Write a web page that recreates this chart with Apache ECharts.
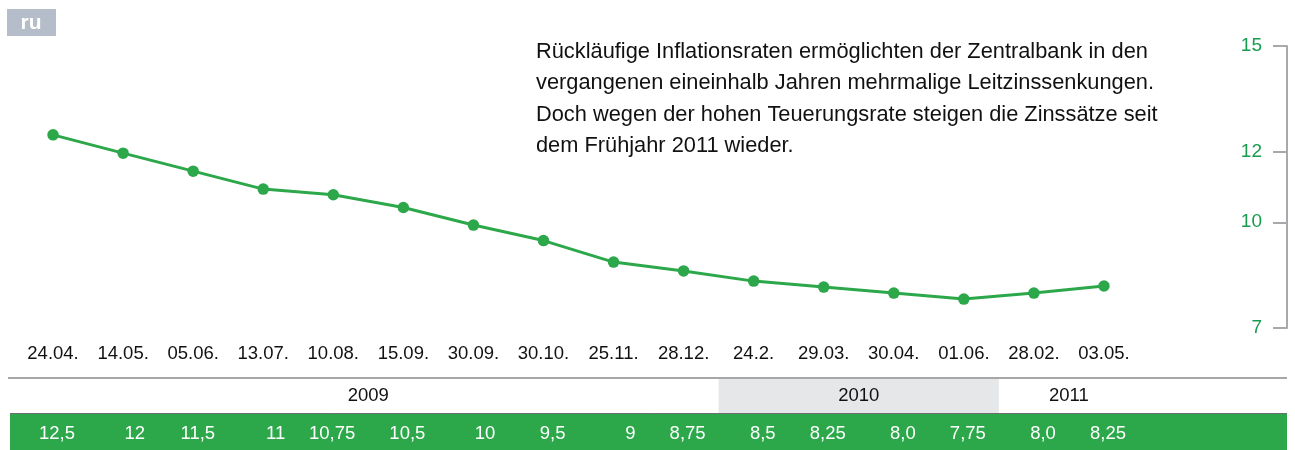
<!DOCTYPE html>
<html>
<head>
<meta charset="utf-8">
<script src="https://cdn.jsdelivr.net/npm/echarts@6/dist/echarts.min.js"></script>
<style>
  html, body { margin: 0; padding: 0; background: #fff; }
  #chart { width: 1295px; height: 450px; }
</style>
</head>
<body>
<div id="chart"></div>
<script>
// Leitzins Russland
const dates = ["24.04.", "14.05.", "05.06.", "13.07.", "10.08.", "15.09.", "30.09.", "30.10.",
  "25.11.", "28.12.", "24.2.", "29.03.", "30.04.", "01.06.", "28.02.", "03.05."];
// as plotted in the picture
const rates = [12.48, 11.96, 11.45, 10.94, 10.78, 10.42, 9.92, 9.48, 8.87, 8.62, 8.33, 8.16, 7.99, 7.82, 7.99, 8.19];
// values printed in the green row
const rateLabels = ["12,5", "12", "11,5", "11", "10,75", "10,5", "10", "9,5", "9", "8,75",
  "8,5", "8,25", "8,0", "7,75", "8,0", "8,25"];
const yTicks = [7, 10, 12, 15];
const years = ["2009", "2010", "2011"];
const yearFirst = [0, 10, 14]; // index of first date in year
const yearLast = [9, 13, 15];
const note = [
  "Rückläufige Inflationsraten ermöglichten der Zentralbank in den",
  "vergangenen eineinhalb Jahren mehrmalige Leitzinssenkungen.",
  "Doch wegen der hohen Teuerungsrate steigen die Zinssätze seit",
  "dem Frühjahr 2011 wieder."
];

const green = "#2ca84a";
const font = "'Liberation Sans', Arial, sans-serif";

const chart = echarts.init(document.getElementById("chart"));

const option = {
  animation: false,
  textStyle: { fontFamily: font },
  grid: [
    { left: 18, right: 156, top: 46, bottom: 122 },
    { left: 18, right: 156, top: 379, height: 34 },
    { left: 40, right: 134, top: 413, height: 37 }
  ],
  xAxis: [
    {
      type: "category",
      gridIndex: 0,
      data: dates,
      boundaryGap: true,
      axisLine: { show: false },
      axisTick: { show: false },
      axisLabel: { interval: 0, color: "#111", fontSize: 18.5, margin: 16, fontFamily: font }
    },
    {
      type: "value",
      gridIndex: 1,
      min: -0.5,
      max: dates.length - 0.5,
      show: false
    },
    {
      type: "category",
      gridIndex: 2,
      data: rateLabels,
      position: "bottom",
      axisLine: { show: false },
      axisTick: { show: false },
      axisLabel: {
        interval: 0,
        inside: true,
        align: "right",
        verticalAlign: "middle",
        margin: 16,
        color: "#fff",
        fontSize: 18.5,
        fontFamily: font
      }
    }
  ],
  yAxis: [
    {
      type: "value",
      gridIndex: 0,
      position: "right",
      offset: 148,
      min: 7,
      max: 15,
      splitLine: { show: false },
      axisLine: { show: true, lineStyle: { color: "#a7a9ac", width: 2 } },
      axisTick: {
        show: true,
        inside: true,
        length: 14,
        customValues: yTicks,
        lineStyle: { color: "#a7a9ac", width: 2 }
      },
      axisLabel: {
        inside: true,
        margin: 25,
        customValues: yTicks,
        color: "#179c4f",
        fontSize: 19,
        fontFamily: font
      }
    },
    { type: "value", gridIndex: 1, min: 0, max: 1, show: false },
    { type: "value", gridIndex: 2, min: 0, max: 1, show: false }
  ],
  graphic: [
    { type: "rect", shape: { x: 7, y: 9, width: 49, height: 27 }, style: { fill: "#b5bdca" } },
    {
      type: "text", x: 31, y: 23,
      style: { text: "ru", fill: "#fff", font: "bold 21px " + font, align: "center", verticalAlign: "middle" }
    },
    {
      type: "text", x: 536, y: 36,
      style: {
        text: note.join("\n"),
        fill: "#111",
        font: "21.8px " + font,
        lineHeight: 31.5
      }
    },
    { type: "line", shape: { x1: 8, y1: 378, x2: 1287, y2: 378 }, style: { stroke: "#8a8a8a", lineWidth: 1.5 } },
    { type: "rect", z: -1, shape: { x: 10, y: 413, width: 1277, height: 37 }, style: { fill: green } },
    { type: "line", z: -1, shape: { x1: 10, y1: 413.5, x2: 1287, y2: 413.5 }, style: { stroke: "#6d6e71", lineWidth: 1 } }
  ],
  series: [
    {
      type: "line",
      xAxisIndex: 0,
      yAxisIndex: 0,
      data: rates,
      symbol: "circle",
      symbolSize: 11.5,
      lineStyle: { color: green, width: 3 },
      itemStyle: { color: green }
    },
    {
      type: "line",
      xAxisIndex: 1,
      yAxisIndex: 1,
      data: [],
      markArea: {
        silent: true,
        label: { show: true, position: "inside", color: "#111", fontSize: 18.5, fontFamily: font },
        data: years.map((y, i) => [
          {
            name: y,
            xAxis: yearFirst[i] - 0.5,
            yAxis: 0,
            itemStyle: { color: y === "2010" ? "#e6e7e8" : "rgba(0,0,0,0)" }
          },
          { xAxis: yearLast[i] + 0.5, yAxis: 1 }
        ])
      }
    }
  ]
};

chart.setOption(option);
</script>
</body>
</html>
